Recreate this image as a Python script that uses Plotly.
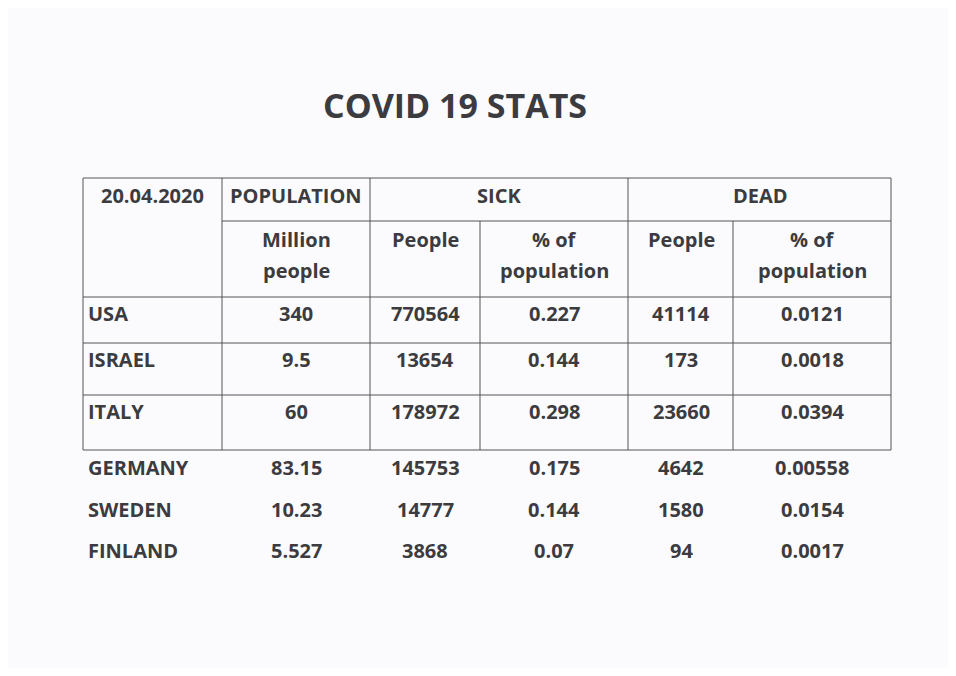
import plotly.graph_objects as go

countries = ["USA", "ISRAEL", "ITALY", "GERMANY", "SWEDEN", "FINLAND"]
population = ["340", "9.5", "60", "83.15", "10.23", "5.527"]
sick_people = ["770564", "13654", "178972", "145753", "14777", "3868"]
sick_pct = ["0.227", "0.144", "0.298", "0.175", "0.144", "0.07"]
dead_people = ["41114", "173", "23660", "4642", "1580", "94"]
dead_pct = ["0.0121", "0.0018", "0.0394", "0.00558", "0.0154", "0.0017"]

row_y = [313, 359, 411, 467, 509, 550]
col_x = [296, 425, 554, 681, 812]

FONT = "Open Sans"
COL = "#3b3b40"
fig = go.Figure()

# table lines
hl = [(83, 891, 178), (222, 891, 221), (83, 891, 297), (83, 891, 343), (83, 891, 395), (83, 891, 450)]
vl = [(83, 178, 450), (222, 178, 450), (370, 178, 450), (480, 221, 450),
      (628, 178, 450), (733, 221, 450), (891, 178, 450)]
for x0, x1, y in hl:
    fig.add_shape(type="line", x0=x0, x1=x1, y0=y, y1=y, line=dict(color="#555", width=1))
for x, y0, y1 in vl:
    fig.add_shape(type="line", x0=x, x1=x, y0=y0, y1=y1, line=dict(color="#555", width=1))

def txt(x, y, s, size=20, anchor="center"):
    fig.add_annotation(x=x, y=y, text="<b>%s</b>" % s, showarrow=False, xanchor=anchor,
                       yanchor="middle", font=dict(family=FONT, size=size, color=COL))

txt(455, 105, "COVID 19 STATS", size=34)
txt(152, 195, "20.04.2020")
txt(296, 195, "POPULATION")
txt(499, 195, "SICK")
txt(760, 195, "DEAD")
txt(296, 239, "Million")
txt(296, 270, "people")
txt(425, 239, "People")
txt(554, 239, "% of")
txt(554, 270, "population")
txt(681, 239, "People")
txt(812, 239, "% of")
txt(812, 270, "population")

for i, c in enumerate(countries):
    y = row_y[i]
    txt(86, y, c, anchor="left")
    for x, vals in zip(col_x, [population, sick_people, sick_pct, dead_people, dead_pct]):
        txt(x, y, vals[i])

# page has an 8px body margin; shift ranges so data coords equal window pixels
fig.update_xaxes(range=[8, 948], visible=False)
fig.update_yaxes(range=[668, 8], visible=False)
fig.update_layout(width=940, height=660, margin=dict(l=0, r=0, t=0, b=0),
                  paper_bgcolor="#fbfbfd", plot_bgcolor="#fbfbfd", showlegend=False)
fig.write_html("out.html")
